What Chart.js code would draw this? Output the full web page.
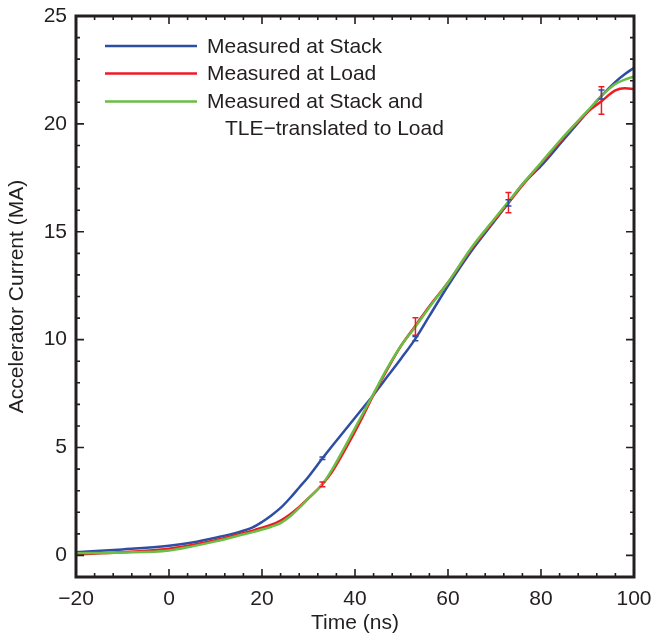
<!DOCTYPE html>
<html lang="en">
<head>
<meta charset="UTF-8">
<title>Accelerator Current vs Time</title>
<style>
  html, body { margin: 0; padding: 0; background: #ffffff; }
  #myChart { display: block; width: 654px !important; height: 636px !important; }
</style>
<script src="https://cdn.jsdelivr.net/npm/chart.js"></script>
</head>
<body>
<canvas id="myChart" width="654" height="636"></canvas>
<script>
// values
const timeNs = [-20, -10, 0, 5, 10, 15, 18, 20, 22, 24, 26, 28, 30, 33, 35, 38, 41, 44, 47, 50, 53, 56, 60, 65, 70, 73, 76, 80, 85, 90, 93, 96, 98, 100];
const stackMA = [0.15, 0.28, 0.45, 0.6, 0.82, 1.08, 1.3, 1.55, 1.85, 2.2, 2.65, 3.15, 3.65, 4.5, 5.05, 5.85, 6.65, 7.45, 8.3, 9.15, 10.05, 11.1, 12.5, 14.1, 15.5, 16.34, 17.2, 18.05, 19.3, 20.55, 21.3, 21.95, 22.3, 22.6];
const loadMA = [0.05, 0.15, 0.31, 0.48, 0.7, 0.98, 1.15, 1.28, 1.42, 1.62, 1.9, 2.25, 2.65, 3.3, 3.85, 4.95, 6.15, 7.45, 8.65, 9.75, 10.65, 11.55, 12.65, 14.2, 15.55, 16.34, 17.15, 18.15, 19.4, 20.55, 21.05, 21.55, 21.65, 21.62];
const tleMA = [0.1, 0.13, 0.23, 0.42, 0.65, 0.92, 1.08, 1.2, 1.33, 1.5, 1.8, 2.2, 2.65, 3.3, 3.95, 5.1, 6.3, 7.5, 8.7, 9.75, 10.6, 11.5, 12.65, 14.25, 15.6, 16.4, 17.2, 18.2, 19.45, 20.6, 21.3, 21.85, 22.05, 22.2];

// error bars
const errTime = [33, 53, 73, 93];
const stackErrLow = [4.44, 9.95, 16.2, 21.15];
const stackErrHigh = [4.56, 10.15, 16.48, 21.57];
const loadErrLow = [3.18, 10.2, 15.88, 20.45];
const loadErrHigh = [3.4, 11.02, 16.82, 21.72];

const xTicks = [-20, 0, 20, 40, 60, 80, 100];
const yTicks = [0, 5, 10, 15, 20, 25];
const xMinorStep = 4;
const yMinorStep = 1;

const seriesNames = ['Measured at Stack', 'Measured at Load', 'Measured at Stack and'];
const seriesNameExtra = 'TLE\u2212translated to Load';
const seriesColors = ['#2e4ea3', '#ec1c24', '#6abd45'];

const FONT = '"Liberation Sans", Arial, Helvetica, sans-serif';
const INK = '#231f20';

function toPoints(ys) {
    return timeNs.map((t, i) => ({ x: t, y: ys[i] }));
}

// error bars drawn through the chart scales
const errorBarPlugin = {
    id: 'errorBars',
    afterDatasetsDraw(chart) {
        const { ctx, scales: { x, y } } = chart;
        const sets = [
            { lo: loadErrLow, hi: loadErrHigh, color: seriesColors[1] },
            { lo: stackErrLow, hi: stackErrHigh, color: seriesColors[0] }
        ];
        ctx.save();
        ctx.lineWidth = 1.5;
        sets.forEach(s => {
            ctx.strokeStyle = s.color;
            errTime.forEach((t, i) => {
                const px = x.getPixelForValue(t);
                const top = y.getPixelForValue(s.hi[i]);
                const bot = y.getPixelForValue(s.lo[i]);
                ctx.beginPath();
                ctx.moveTo(px, top); ctx.lineTo(px, bot);
                ctx.moveTo(px - 3, top); ctx.lineTo(px + 3, top);
                ctx.moveTo(px - 3, bot); ctx.lineTo(px + 3, bot);
                ctx.stroke();
            });
        });
        ctx.restore();
    }
};

// box around the plot with inward ticks on all four sides
const framePlugin = {
    id: 'frame',
    afterDraw(chart) {
        const { ctx, chartArea: a, scales: { x, y } } = chart;
        ctx.save();
        ctx.strokeStyle = INK;
        ctx.lineWidth = 1.6;
        ctx.beginPath();
        for (let v = -20; v <= 100; v += xMinorStep) {
            const px = x.getPixelForValue(v);
            const len = xTicks.includes(v) ? 8 : 4;
            ctx.moveTo(px, a.bottom); ctx.lineTo(px, a.bottom - len);
            ctx.moveTo(px, a.top); ctx.lineTo(px, a.top + len);
        }
        for (let v = -1; v <= 25; v += yMinorStep) {
            const py = y.getPixelForValue(v);
            const len = yTicks.includes(v) ? 8 : 4;
            ctx.moveTo(a.left, py); ctx.lineTo(a.left + len, py);
            ctx.moveTo(a.right, py); ctx.lineTo(a.right - len, py);
        }
        ctx.stroke();
        ctx.lineWidth = 3;
        ctx.strokeRect(a.left, a.top, a.right - a.left, a.bottom - a.top);
        ctx.restore();
    }
};

// legend inside the plot, upper left
const legendPlugin = {
    id: 'insideLegend',
    afterDraw(chart) {
        const { ctx, chartArea: a } = chart;
        const x0 = a.left + 29, x1 = a.left + 121, tx = a.left + 131;
        const rows = [a.top + 30, a.top + 57.5, a.top + 85.5];
        ctx.save();
        ctx.lineWidth = 2.5;
        ctx.font = '21px ' + FONT;
        ctx.fillStyle = INK;
        ctx.textBaseline = 'middle';
        rows.forEach((ry, i) => {
            ctx.strokeStyle = seriesColors[i];
            ctx.beginPath();
            ctx.moveTo(x0, ry); ctx.lineTo(x1, ry);
            ctx.stroke();
            ctx.fillText(seriesNames[i], tx, ry + 1);
        });
        ctx.fillText(seriesNameExtra, tx + 18, rows[2] + 28);
        ctx.restore();
    }
};

function createChart() {
    const ctx = document.getElementById('myChart').getContext('2d');
    const common = {
        borderWidth: 2.5,
        pointRadius: 0,
        fill: false,
        cubicInterpolationMode: 'monotone'
    };
    new Chart(ctx, {
        type: 'line',
        data: {
            datasets: [
                Object.assign({ label: seriesNames[0], data: toPoints(stackMA), borderColor: seriesColors[0], order: 3 }, common),
                Object.assign({ label: seriesNames[1], data: toPoints(loadMA), borderColor: seriesColors[1], order: 2 }, common),
                Object.assign({ label: seriesNames[2], data: toPoints(tleMA), borderColor: seriesColors[2], order: 1 }, common)
            ]
        },
        options: {
            responsive: false,
            animation: false,
            devicePixelRatio: 1,
            layout: { padding: { top: 16, right: 20, left: 0, bottom: 0 } },
            scales: {
                x: {
                    type: 'linear',
                    min: -20,
                    max: 100,
                    afterBuildTicks: scale => { scale.ticks = xTicks.map(v => ({ value: v })); },
                    afterFit: scale => {
                        scale.height = 59;
                        scale.paddingLeft = 0;
                        scale.paddingRight = 0;
                    },
                    grid: { display: false, drawTicks: false },
                    border: { display: false },
                    ticks: {
                        padding: 10,
                        color: INK,
                        font: { family: FONT, size: 21 },
                        maxRotation: 0,
                        callback: v => (v < 0 ? '\u2212' + Math.abs(v) : String(v))
                    },
                    title: {
                        display: true,
                        text: 'Time (ns)',
                        color: INK,
                        font: { family: FONT, size: 21 },
                        padding: { top: 0, bottom: 0 }
                    }
                },
                y: {
                    type: 'linear',
                    min: -1,
                    max: 25,
                    afterBuildTicks: scale => { scale.ticks = yTicks.map(v => ({ value: v })); },
                    afterFit: scale => {
                        scale.width = 76;
                        scale.paddingTop = 0;
                        scale.paddingBottom = 0;
                    },
                    grid: { display: false, drawTicks: false },
                    border: { display: false },
                    ticks: {
                        padding: 9,
                        color: INK,
                        font: { family: FONT, size: 21 }
                    },
                    title: {
                        display: true,
                        text: 'Accelerator Current (MA)',
                        color: INK,
                        font: { family: FONT, size: 21 },
                        padding: { top: 5, bottom: 0 }
                    }
                }
            },
            plugins: {
                legend: { display: false },
                tooltip: { enabled: false }
            }
        },
        plugins: [errorBarPlugin, framePlugin, legendPlugin]
    });
}

createChart();
</script>
</body>
</html>
